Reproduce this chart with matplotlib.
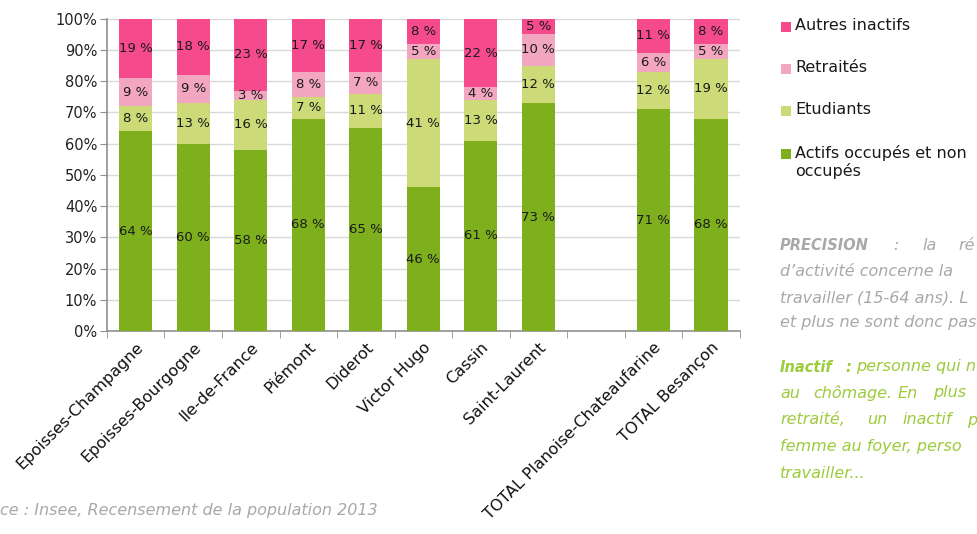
import numpy as np
import matplotlib
matplotlib.use('Agg')
import matplotlib.pyplot as plt
from matplotlib.patches import Rectangle

# Données (%)
quartiers = ['Epoisses-Champagne', 'Epoisses-Bourgogne', 'Ile-de-France', 'Piémont',
             'Diderot', 'Victor Hugo', 'Cassin', 'Saint-Laurent', '',
             'TOTAL Planoise-Chateaufarine', 'TOTAL Besançon']
actifs    = [64, 60, 58, 68, 65, 46, 61, 73, 0, 71, 68]
etudiants = [ 8, 13, 16,  7, 11, 41, 13, 12, 0, 12, 19]
retraites = [ 9,  9,  3,  8,  7,  5,  4, 10, 0,  6,  5]
autres    = [19, 18, 23, 17, 17,  8, 22,  5, 0, 11,  8]
series  = [actifs, etudiants, retraites, autres]
noms    = ['Actifs occupés et non\noccupés', 'Etudiants', 'Retraités', 'Autres inactifs']
couleurs = ['#7DB01C', '#CCDA77', '#F3A6C0', '#F54A8B']

plt.rcParams['font.family'] = ['DejaVu Sans']
fig = plt.figure(figsize=(9.77, 5.34), dpi=100)
ax = fig.add_axes([0.1095, 0.380, 0.6475, 0.585])

x = np.arange(len(quartiers))
bas = np.zeros(len(quartiers))
for vals, c in zip(series, couleurs):
    v = np.array(vals, dtype=float)
    ax.bar(x, v, 0.58, bottom=bas, color=c, zorder=3, linewidth=0)
    for xi, b, h in zip(x, bas, v):
        if h > 0:
            ax.text(xi, b + h / 2, f'{int(h)} %', ha='center', va='center',
                    fontsize=9.5, color='#1a1a1a', zorder=4)
    bas += v

ax.set_xlim(-0.5, len(quartiers) - 0.5)
ax.set_ylim(0, 100)
ax.set_yticks(np.arange(0, 101, 10))
ax.set_yticklabels([f'{t}%' for t in range(0, 101, 10)], fontsize=10.5, color='#222222')
ax.set_xticks(x)
ax.set_xticklabels(quartiers, rotation=45, ha='right', rotation_mode='anchor',
                   fontsize=11.5, color='#111111')
ax.set_xticks(np.arange(-0.5, len(quartiers)), minor=True)
ax.tick_params(axis='x', which='major', length=0, pad=6)
ax.tick_params(axis='x', which='minor', length=5, color='#909090', direction='out')
ax.tick_params(axis='y', length=5, color='#909090', pad=2)
ax.grid(axis='y', color='#D9D9D9', linewidth=1, zorder=0)
for s in ['top', 'right']:
    ax.spines[s].set_visible(False)
for s in ['left', 'bottom']:
    ax.spines[s].set_color('#909090')
    ax.spines[s].set_linewidth(1.2)

# Légende
W, H = 977.0, 534.0
leg_y = [27, 69, 111, 154]
for (nom, c), yy in zip(list(zip(noms, couleurs))[::-1], leg_y):
    fig.add_artist(Rectangle((781 / W, 1 - (yy + 5) / H), 10 / W, 10 / H,
                             transform=fig.transFigure, color=c, linewidth=0))
    fig.text(795 / W, 1 - (yy - 9) / H, nom, fontsize=11.5, color='#1a1a1a',
             va='top', ha='left', linespacing=1.15)

# Textes de droite
gris, vert = '#A8A8A8', '#9CCB3B'
blocs = [
    (245, [('PRECISION', 780, 'bold'), (':', 893, 'normal'), ('la', 922, 'normal'), ('ré', 958, 'normal')], gris),
    (272, [('d’activité concerne la', 780, 'normal')], gris),
    (298, [('travailler (15-64 ans). L', 780, 'normal')], gris),
    (323, [('et plus ne sont donc pas', 780, 'normal')], gris),
    (367, [('Inactif', 780, 'bold'), (':', 845, 'bold'), ('personne qui n', 856, 'normal')], vert),
    (393, [('au', 780, 'normal'), ('chômage.', 813, 'normal'), ('En', 898, 'normal'), ('plus', 933, 'normal')], vert),
    (420, [('retraité,', 780, 'normal'), ('un', 867, 'normal'), ('inactif', 902, 'normal'), ('p', 967, 'normal')], vert),
    (447, [('femme au foyer, perso', 780, 'normal')], vert),
    (473, [('travailler...', 780, 'normal')], vert),
]
for yy, morceaux, c in blocs:
    for txt, xx, w in morceaux:
        fig.text(xx / W, 1 - yy / H, txt, fontsize=10.5 if w == 'bold' else 11.5,
                 style='italic', weight=w, color=c, va='center', ha='left')

fig.text(0, 1 - 511 / H, 'ce : Insee, Recensement de la population 2013',
         fontsize=11.5, style='italic', color=gris, va='center', ha='left')

fig.savefig('out.png', dpi=100)
